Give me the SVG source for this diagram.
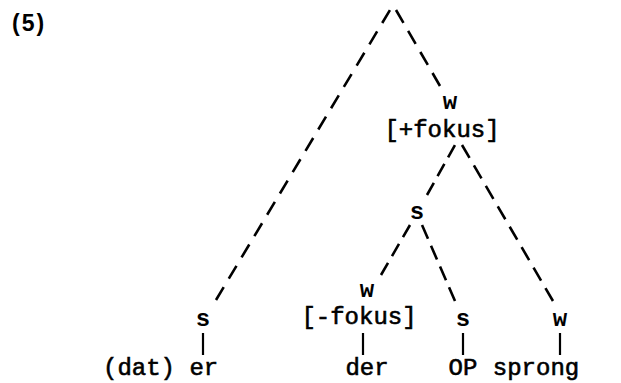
<svg xmlns="http://www.w3.org/2000/svg" width="621" height="383" viewBox="0 0 621 383">
<style>
.t{font-family:"Liberation Mono","Courier New",monospace;font-size:24px;fill:#000;stroke:#000;stroke-width:0.6}
.n{font-family:"Liberation Mono","Courier New",monospace;font-size:24px;font-weight:bold;fill:#000}
.d{stroke:#000;stroke-width:2.6;fill:none}
.v{stroke:#000;stroke-width:2.2;fill:none}
</style>
<rect width="621" height="383" fill="#fff"/>
<text x="12" y="31" font-family="Liberation Sans,Arial,sans-serif" font-size="23" font-weight="bold" letter-spacing="2">(5)</text>
<g id="connectors">
<line class="d" x1="216" y1="300" x2="390" y2="10" stroke-dasharray="15 9.85"/>
<line class="d" x1="440" y1="86" x2="396" y2="10" stroke-dasharray="15 9.3"/>
<line class="d" x1="427" y1="195" x2="455" y2="145" stroke-dasharray="14 7.6"/>
<line class="d" x1="553" y1="301" x2="462" y2="145" stroke-dasharray="15 8.66"/>
<line class="d" x1="381" y1="275" x2="410" y2="225" stroke-dasharray="14 7.9"/>
<line class="d" x1="455" y1="301" x2="422" y2="225" stroke-dasharray="15 7.6"/>
<line class="v" x1="203" y1="333" x2="203" y2="355"/>
<line class="v" x1="363" y1="333" x2="363" y2="355"/>
<line class="v" x1="463" y1="333" x2="463" y2="355"/>
<line class="v" x1="560" y1="333" x2="560" y2="355"/>
</g>
<g id="w-plus"><text class="n" x="450" y="109" text-anchor="middle">w</text><text class="t" x="442" y="137" text-anchor="middle">[+fokus]</text></g>
<g id="s-mid"><text class="n" x="417" y="219" text-anchor="middle">s</text></g>
<g id="s-left"><text class="n" x="203" y="326" text-anchor="middle">s</text></g>
<g id="w-minus"><text class="n" x="367" y="297" text-anchor="middle">w</text><text class="t" x="359" y="324" text-anchor="middle">[-fokus]</text></g>
<g id="s-op"><text class="n" x="463" y="326" text-anchor="middle">s</text></g>
<g id="w-sprong"><text class="n" x="560" y="326" text-anchor="middle">w</text></g>
<g id="words">
<text class="t" x="103" y="375">(dat) er</text>
<text class="t" x="367" y="375" text-anchor="middle">der</text>
<text class="t" x="463" y="375" text-anchor="middle">OP</text>
<text class="t" x="536" y="375" text-anchor="middle">sprong</text>
</g>
</svg>
